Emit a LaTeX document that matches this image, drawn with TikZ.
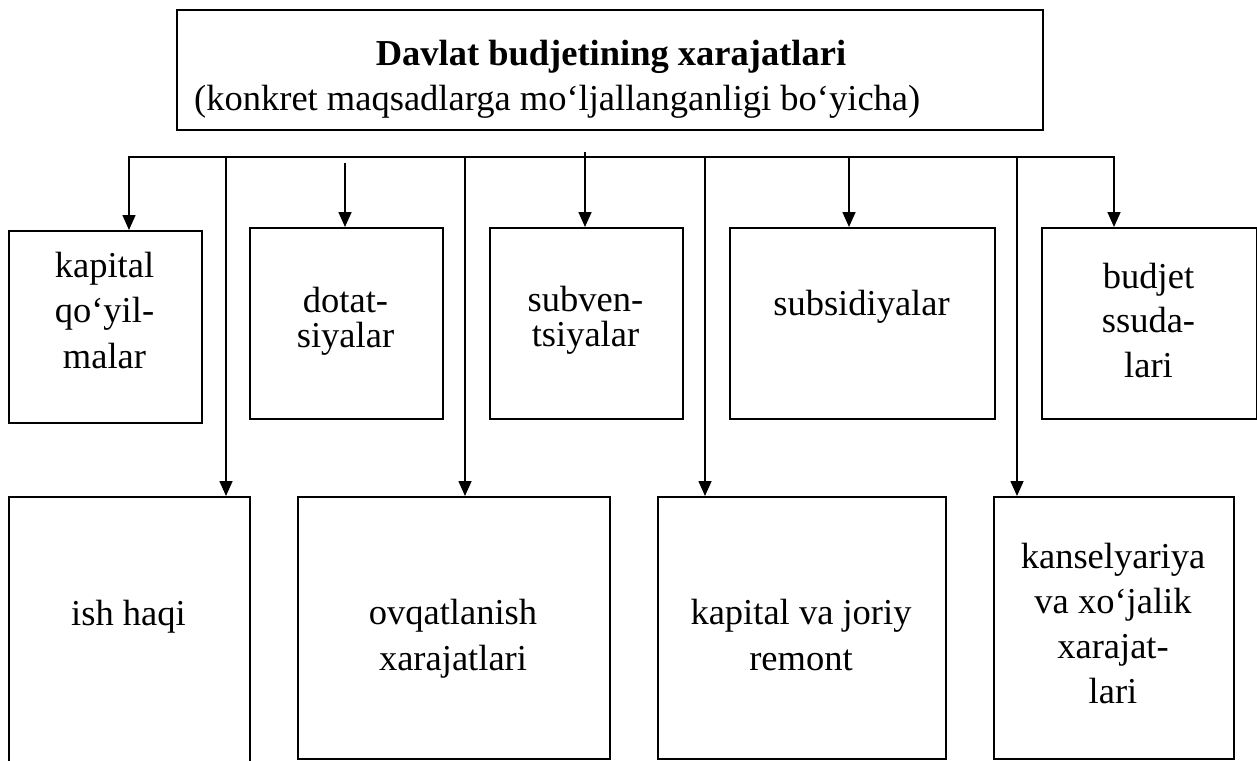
\documentclass[tikz,border=0pt]{standalone}
\usepackage{fontspec}
\setmainfont{Liberation Serif}
\usetikzlibrary{arrows.meta}
\begin{document}
\begin{tikzpicture}[x=1pt,y=-1pt,
  box/.style={draw, line width=1.9pt, inner sep=0pt, anchor=north west},
  lbl/.style={align=center, inner sep=0pt, anchor=base, font={\fontsize{36.5}{45.5}\selectfont}},
  tight/.style={font={\fontsize{36.5}{35}\selectfont}},
  conn/.style={line width=1.6pt},
  arr/.style={conn, -{Triangle[length=15pt,width=13pt]}}]
\useasboundingbox (0,0) rectangle (1257,760);
\clip (0,0) rectangle (1257,760);

% top box
\node[box, minimum width=866pt, minimum height=120pt] (top) at (176,9) {};
\node[lbl, font={\fontsize{36.5}{45}\selectfont\bfseries}] (title) at (611,65) {Davlat budjetining xarajatlari};
\node[lbl, anchor=base west] (sub) at (194,110) {(konkret maqsadlarga mo‘ljallanganligi bo‘yicha)};

% upper row
\node[box, minimum width=193pt, minimum height=192pt] (b1) at (8,230) {};
\node[box, minimum width=193pt, minimum height=191pt] (b2) at (249,227) {};
\node[box, minimum width=193pt, minimum height=191pt] (b3) at (489,227) {};
\node[box, minimum width=265pt, minimum height=191pt] (b4) at (729,227) {};
\node[box, minimum width=215pt, minimum height=191pt] (b5) at (1041,227) {};

% (anchor=base is the baseline of the last line)
\node[lbl] (l1) at (104.5,368) {kapital\\qo‘yil-\\malar};
\node[lbl, tight] (l2) at (345.5,347) {dotat-\\siyalar};
\node[lbl, tight] (l3) at (585.5,346) {subven-\\tsiyalar};
\node[lbl] (l4) at (861.5,315) {subsidiyalar};
\node[lbl, font={\fontsize{36.5}{44.5}\selectfont}] (l5) at (1148.5,377) {budjet\\ssuda-\\lari};

% lower row
\node[box, minimum width=241pt, minimum height=290pt] (b6) at (8,496) {};
\node[box, minimum width=312pt, minimum height=262pt] (b7) at (297,496) {};
\node[box, minimum width=288pt, minimum height=262pt] (b8) at (657,496) {};
\node[box, minimum width=240pt, minimum height=262pt] (b9) at (993,496) {};

\node[lbl] (l6) at (128.5,625) {ish haqi};
\node[lbl] (l7) at (453,670) {ovqatlanish\\xarajatlari};
\node[lbl] (l8) at (801,670) {kapital va joriy\\remont};
\node[lbl, font={\fontsize{36.5}{45}\selectfont}] (l9) at (1113,703) {kanselyariya\\va xo‘jalik\\xarajat-\\lari};

% connectors
\coordinate (busL) at (129,157);
\coordinate (busR) at (1114,157);
\coordinate (d2) at (345,163);
\coordinate (s3) at (585,152);
\coordinate (t4) at (849,157);
\coordinate (t6) at (226,157);
\coordinate (t7) at (465,157);
\coordinate (t8) at (705,157);
\coordinate (t9) at (1017,157);

\draw[arr] (busR) -- (busL) -- (busL |- b1.north);
\draw[arr] (t9) -- (busR) -- (busR |- b5.north);
\draw[arr] (d2) -- (d2 |- b2.north);
\draw[arr] (s3) -- (s3 |- b3.north);
\draw[arr] (t4) -- (t4 |- b4.north);
\draw[arr] (t6) -- (t6 |- b6.north);
\draw[arr] (t7) -- (t7 |- b7.north);
\draw[arr] (t8) -- (t8 |- b8.north);
\draw[arr] (t9) -- (t9 |- b9.north);
\end{tikzpicture}
\end{document}
